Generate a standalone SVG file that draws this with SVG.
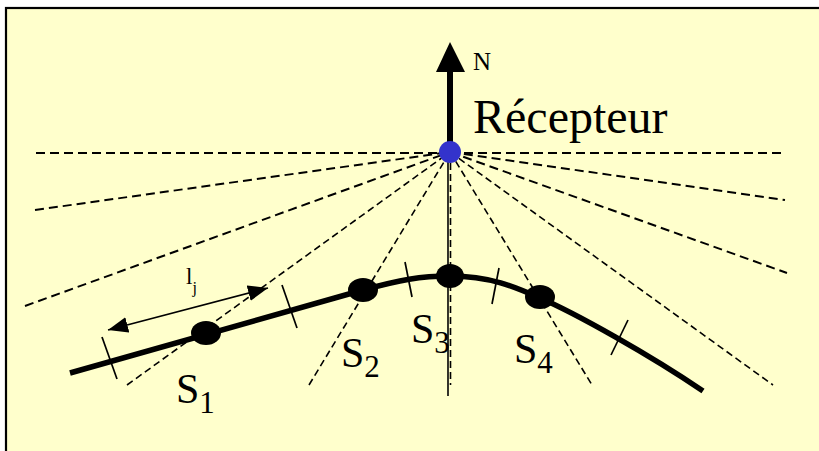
<svg xmlns="http://www.w3.org/2000/svg" width="819" height="451" viewBox="0 0 819 451">
  <style>
    .ray { stroke: #000; stroke-width: 2; stroke-dasharray: 9 5; fill: none; }
    .ray2 { stroke: #000; stroke-width: 1.6; stroke-dasharray: 7 4; fill: none; }
    .tick { stroke: #000; stroke-width: 1.7; }
    .lbl { font-family: "Liberation Serif", "Times New Roman", serif; fill: #000; }
    .pt { fill: #000; }
  </style>
  <defs>
    <marker id="ah" viewBox="0 0 20 16" refX="20" refY="8" markerWidth="20" markerHeight="16" markerUnits="userSpaceOnUse" orient="auto-start-reverse">
      <path d="M0,0 L20,8 L0,16 Z" fill="#000"/>
    </marker>
  </defs>
  <rect x="6" y="8" width="830" height="460" fill="#FFFFCC" stroke="#000" stroke-width="2.2"/>

  <g id="connectors">
    <line class="ray" x1="36" y1="153" x2="450" y2="153"/>
    <line class="ray" x1="450" y1="153" x2="784" y2="153"/>
    <line class="ray" x1="35" y1="210" x2="450" y2="152"/>
    <line class="ray" x1="450" y1="152" x2="785" y2="200"/>
    <line class="ray" x1="25" y1="306" x2="450" y2="152"/>
    <line class="ray" x1="450" y1="152" x2="787" y2="273"/>
    <line class="ray2" x1="127" y1="385" x2="450" y2="152"/>
    <line class="ray2" x1="450" y1="152" x2="773" y2="385"/>
    <line class="ray2" x1="309" y1="385" x2="450" y2="152"/>
    <line class="ray2" x1="450" y1="152" x2="592" y2="385"/>
    <line x1="448" y1="152" x2="448" y2="396" stroke="#000" stroke-width="1.6"/>
    <line class="ray2" x1="450.5" y1="152" x2="450.5" y2="385"/>
    <line x1="450" y1="72" x2="450" y2="148" stroke="#000" stroke-width="6"/>
    <polygon points="450,42 436,72 465,72" fill="#000"/>
    <line x1="108" y1="330" x2="268" y2="288" stroke="#000" stroke-width="1.6" marker-start="url(#ah)" marker-end="url(#ah)"/>
  </g>

  <g id="road">
    <path d="M70,373 L363,290 C400,280 420,276 450,276 C490,276 515,287 540,298 C575,313 650,355 703,391" fill="none" stroke="#000" stroke-width="5.5"/>
    <line class="tick" x1="102" y1="337" x2="117" y2="379"/>
    <line class="tick" x1="282" y1="285" x2="297" y2="328"/>
    <line class="tick" x1="405" y1="262" x2="412" y2="297"/>
    <line class="tick" x1="499" y1="268" x2="492" y2="304"/>
    <line class="tick" x1="628" y1="320" x2="611" y2="355"/>
  </g>

  <g id="receptor">
    <circle cx="450" cy="152" r="11" fill="#3333CC"/>
    <text class="lbl" x="473" y="133" font-size="48">Récepteur</text>
    <text class="lbl" x="473" y="70" font-size="25">N</text>
  </g>

  <g id="S1">
    <ellipse class="pt" cx="206" cy="333" rx="15" ry="12"/>
    <text class="lbl" x="176" y="403" font-size="42">S<tspan font-size="31" dy="10">1</tspan></text>
  </g>
  <g id="S2">
    <ellipse class="pt" cx="363" cy="290" rx="15" ry="12"/>
    <text class="lbl" x="341" y="367" font-size="42">S<tspan font-size="31" dy="10">2</tspan></text>
  </g>
  <g id="S3">
    <ellipse class="pt" cx="450" cy="276" rx="14" ry="12"/>
    <text class="lbl" x="411" y="343" font-size="42">S<tspan font-size="31" dy="10">3</tspan></text>
  </g>
  <g id="S4">
    <ellipse class="pt" cx="540" cy="297" rx="15" ry="12"/>
    <text class="lbl" x="514" y="363" font-size="42">S<tspan font-size="31" dy="10">4</tspan></text>
  </g>

  <g id="lj">
    <text class="lbl" x="186" y="284" font-size="23">l<tspan font-size="16" dy="9">j</tspan></text>
  </g>
</svg>
